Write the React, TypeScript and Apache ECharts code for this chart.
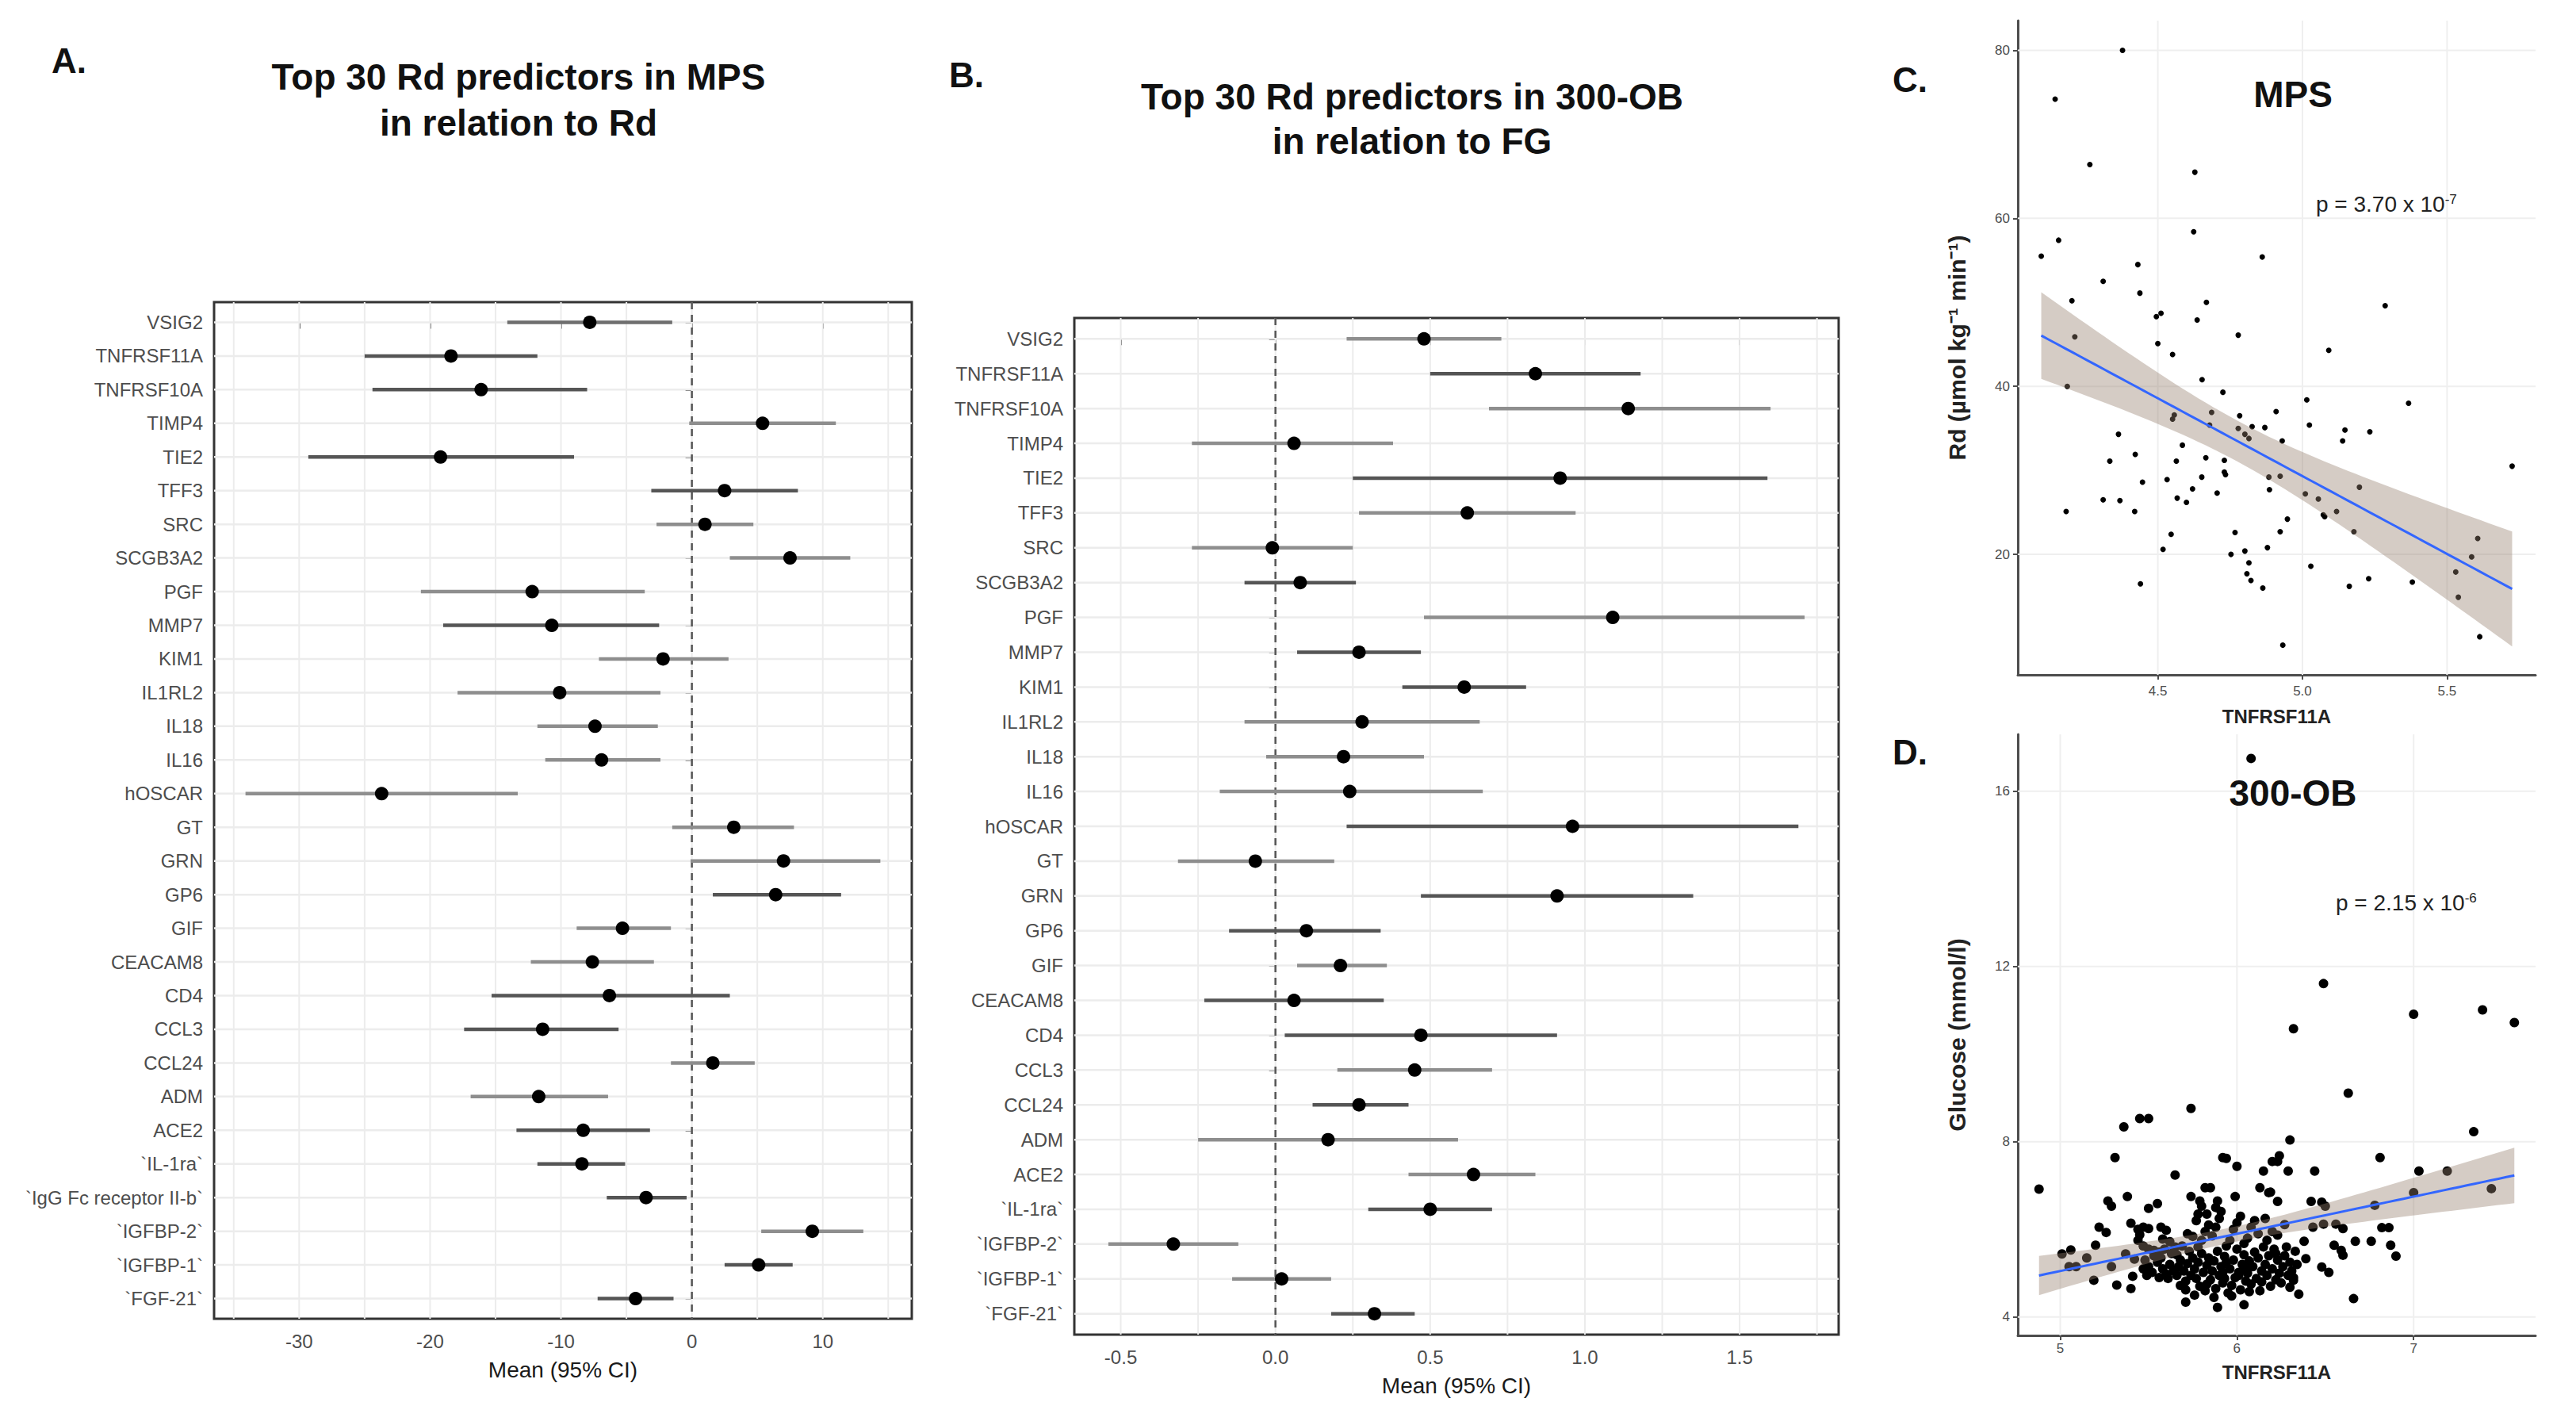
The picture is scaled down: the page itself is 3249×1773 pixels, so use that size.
import React, { useEffect, useRef } from "react";
import * as echarts from "echarts";

// ---------- Panel A: Top 30 Rd predictors in MPS (in relation to Rd) ----------
const catsA = ["VSIG2","TNFRSF11A","TNFRSF10A","TIMP4","TIE2","TFF3","SRC","SCGB3A2","PGF","MMP7","KIM1","IL1RL2","IL18","IL16","hOSCAR","GT","GRN","GP6","GIF","CEACAM8","CD4","CCL3","CCL24","ADM","ACE2","`IL-1ra`","`IgG Fc receptor II-b`","`IGFBP-2`","`IGFBP-1`","`FGF-21`"];
const meanA = [-7.8,-18.4,-16.1,5.4,-19.2,2.5,1.0,7.5,-12.2,-10.7,-2.2,-10.1,-7.4,-6.9,-23.7,3.2,7.0,6.4,-5.3,-7.6,-6.3,-11.4,1.6,-11.7,-8.3,-8.4,-3.5,9.2,5.1,-4.3];
const lowA = [-14.1,-25.0,-24.4,-0.2,-29.3,-3.1,-2.7,2.9,-20.7,-19.0,-7.1,-17.9,-11.8,-11.2,-34.1,-1.5,-0.1,1.6,-8.8,-12.3,-15.3,-17.4,-1.6,-16.9,-13.4,-11.8,-6.5,5.3,2.5,-7.2];
const highA = [-1.5,-11.8,-8.0,11.0,-9.0,8.1,4.7,12.1,-3.6,-2.5,2.8,-2.4,-2.6,-2.4,-13.3,7.8,14.4,11.4,-1.6,-2.9,2.9,-5.6,4.8,-6.4,-3.2,-5.1,-0.4,13.1,7.7,-1.4];
const shadeA = ["m","d","d","l","d","d","l","l","l","d","l","l","l","l","l","l","l","d","l","l","d","d","l","l","d","d","d","l","d","d"];
const xTicksA = [-30, -20, -10, 0, 10];
const xGridA = [-35, -30, -25, -20, -15, -10, -5, 0, 5, 10, 15];

// ---------- Panel B: Top 30 Rd predictors in 300-OB (in relation to FG) ----------
const catsB = ["VSIG2","TNFRSF11A","TNFRSF10A","TIMP4","TIE2","TFF3","SRC","SCGB3A2","PGF","MMP7","KIM1","IL1RL2","IL18","IL16","hOSCAR","GT","GRN","GP6","GIF","CEACAM8","CD4","CCL3","CCL24","ADM","ACE2","`IL-1ra`","`IGFBP-2`","`IGFBP-1`","`FGF-21`"];
const meanB = [0.48,0.84,1.14,0.06,0.92,0.62,-0.01,0.08,1.09,0.27,0.61,0.28,0.22,0.24,0.96,-0.065,0.91,0.10,0.21,0.06,0.47,0.45,0.27,0.17,0.64,0.50,-0.33,0.02,0.32];
const lowB = [0.23,0.50,0.69,-0.27,0.25,0.27,-0.27,-0.10,0.48,0.07,0.41,-0.10,-0.03,-0.18,0.23,-0.315,0.47,-0.15,0.07,-0.23,0.03,0.20,0.12,-0.25,0.43,0.30,-0.54,-0.14,0.18];
const highB = [0.73,1.18,1.60,0.38,1.59,0.97,0.25,0.26,1.71,0.47,0.81,0.66,0.48,0.67,1.69,0.19,1.35,0.34,0.36,0.35,0.91,0.70,0.43,0.59,0.84,0.70,-0.12,0.18,0.45];
const shadeB = ["l","d","l","l","d","l","l","d","l","d","d","l","l","l","d","l","d","d","l","d","d","l","d","l","l","d","l","l","d"];
const xTicksB = [-0.5, 0, 0.5, 1, 1.5];
const xGridB = [-0.5, -0.25, 0, 0.25, 0.5, 0.75, 1, 1.25, 1.5, 1.75];

// ---------- Panel C: MPS, TNFRSF11A vs Rd ----------
const mpsPoints = [
  [4.378,80.0],[4.145,74.2],[4.265,66.4],[4.628,65.5],[4.624,58.4],[4.157,57.4],[4.097,55.5],[4.431,54.5],[4.861,55.4],[4.311,52.5],
  [4.438,51.1],[4.203,50.2],[4.668,50.0],[4.495,48.3],[4.511,48.7],[4.636,47.9],[5.286,49.6],
  [4.213,45.9],[4.778,46.1],[4.500,45.1],[4.551,43.8],[5.091,44.3],[4.653,40.8],[4.187,40.0],[4.725,39.3],[5.015,38.4],[5.367,38.0],
  [4.557,36.6],[4.551,36.1],[4.686,36.9],[4.909,37.0],[4.783,36.5],[5.024,35.4],[4.679,35.4],[4.826,35.2],[4.870,35.1],[4.778,35.0],
  [4.801,34.3],[4.815,33.8],[5.147,34.8],[5.233,34.6],[4.364,34.3],[4.930,33.5],[5.139,33.5],[4.585,33.0],[4.422,31.9],[4.334,31.1],
  [4.564,31.1],[4.666,31.5],[4.730,31.2],[4.730,29.8],[4.734,29.5],[5.725,30.5],[4.652,29.2],[4.884,29.2],[4.923,29.3],[4.532,28.9],
  [4.447,28.6],[4.620,27.8],[4.886,27.7],[5.197,28.0],[4.705,27.3],[5.010,27.2],[5.055,26.6],[4.311,26.5],[4.369,26.4],[4.567,26.7],
  [4.599,26.2],[4.183,25.1],[4.420,25.1],[5.072,24.7],[5.077,24.5],[5.118,25.1],[4.948,24.2],[4.546,22.4],[4.767,22.6],[4.923,22.7],
  [5.178,22.7],[5.606,21.9],[4.518,20.6],[4.879,20.8],[4.753,20.0],[4.801,20.4],[4.815,19.0],[5.029,18.6],[5.585,19.7],[5.530,17.9],
  [4.808,17.7],[4.822,16.9],[4.440,16.5],[4.863,16.0],[5.162,16.2],[5.229,17.1],[5.380,16.7],[5.539,14.9],[5.613,10.2],[4.932,9.2]
];
const xTicksC = [4.5, 5.0, 5.5];
const yTicksC = [20, 40, 60, 80];

// ---------- Panel D: 300-OB, TNFRSF11A vs Glucose ----------
const obPoints = [
  [4.88,6.92],[5.01,5.44],[5.06,5.53],[5.05,5.15],[5.09,5.15],[5.15,5.35],[5.19,4.84],[5.2,5.64],[5.22,6.05],[5.26,5.93],
  [5.27,6.65],[5.29,6.53],[5.29,5.15],[5.31,7.64],[5.32,4.73],[5.36,8.34],[5.37,5.44],[5.38,6.75],[5.4,6.14],[5.4,4.65],
  [5.41,4.93],[5.42,5.32],[5.45,8.53],[5.5,8.53],[5.5,6.48],[5.55,6.59],[5.65,7.24],[5.74,8.76],[5.74,6.75],[5.79,6.65],
  [5.8,6.53],[5.82,6.95],[5.85,6.95],[5.89,6.65],[5.88,6.5],[5.91,6.41],[5.78,6.35],[5.83,6.35],[5.92,7.64],[5.94,7.62],
  [6.0,7.44],[5.99,6.75],[6.15,7.33],[6.2,7.55],[6.13,6.95],[6.18,6.84],
  [6.08,16.75],[6.49,11.61],[7.0,10.91],[7.39,11.01],[7.57,10.72],[6.32,10.58],[6.63,9.11],[6.3,8.04],[7.34,8.23],[6.24,7.68],
  [6.23,7.55],[6.81,7.64],[6.29,7.33],[6.44,7.33],[7.03,7.33],[7.19,7.33],[6.19,6.85],[6.23,6.64],[6.42,6.64],[6.48,6.62],
  [6.5,6.53],[7.0,6.84],[7.44,6.93],[6.78,6.55],[6.27,6.11],[6.43,6.05],[6.49,6.12],[6.56,6.12],[6.6,6.02],[6.82,6.04],
  [6.86,6.04],[6.23,5.87],[6.38,5.73],[6.67,5.73],[6.76,5.73],[6.87,5.64],[6.9,5.39],[6.55,5.64],[6.59,5.52],[6.6,5.41],
  [6.39,5.33],[6.48,5.14],[6.52,5.02],[6.32,4.9],[6.32,4.84],[6.3,4.68],[6.35,4.52],[6.66,4.42],[5.71,4.62],[5.71,4.34],
  [5.89,4.22],[6.04,4.28],
  [5.44,6.0],[5.47,6.05],[5.5,6.02],[5.45,5.88],[5.44,5.75],[5.47,5.62],[5.5,5.55],[5.53,5.52],[5.56,5.48],[5.57,6.05],[5.6,5.98],
  [5.48,5.3],[5.5,5.15],[5.52,5.02],[5.49,4.95],[5.55,5.25],[5.53,5.4],[5.47,5.1],
  [5.57,5.35],[5.58,5.1],[5.6,4.98],[5.62,5.2],[5.63,5.45],[5.59,5.55],[5.61,4.88],[5.64,5.05],[5.56,4.9],[5.65,5.6],[5.62,5.72],[5.58,5.78],
  [5.66,4.95],[5.67,5.15],[5.68,5.3],[5.7,5.05],[5.71,4.82],[5.72,5.22],[5.73,5.5],[5.69,5.62],[5.74,4.95],[5.75,5.35],[5.68,4.72],[5.72,5.9],[5.75,5.84],[5.66,5.42],
  [5.76,5.1],[5.77,4.88],[5.78,5.25],[5.79,4.7],[5.8,5.45],[5.81,5.02],[5.82,4.6],[5.83,5.18],[5.84,5.35],[5.85,4.85],[5.78,5.6],[5.8,5.75],[5.82,5.95],[5.84,6.1],[5.77,6.2],[5.76,4.5],[5.83,4.75],
  [5.86,5.05],[5.87,5.28],[5.88,4.65],[5.89,5.5],[5.9,4.95],[5.91,5.15],[5.92,4.78],[5.93,5.38],[5.94,5.62],[5.95,4.55],[5.86,5.85],[5.88,6.05],[5.9,6.25],[5.92,5.02],[5.87,4.45],[5.93,4.88],[5.94,5.25],
  [5.96,5.1],[5.97,4.72],[5.98,5.3],[5.99,4.9],[6.0,5.55],[6.01,5.02],[6.02,4.62],[6.03,5.2],[6.04,5.42],[6.05,4.82],[5.96,5.75],[5.98,6.0],[6.0,6.15],[6.02,6.3],[5.97,4.48],[6.04,5.68],[6.01,4.95],[6.05,5.12],
  [6.06,5.0],[6.07,5.28],[6.08,4.75],[6.09,5.15],[6.1,5.48],[6.11,4.88],[6.12,5.35],[6.13,4.6],[6.14,5.05],[6.15,5.6],[6.06,5.8],[6.08,6.05],[6.1,6.2],[6.12,5.9],[6.07,4.58],[6.14,4.8],
  [6.16,5.2],[6.17,4.95],[6.18,5.4],[6.19,4.7],[6.2,5.1],[6.21,5.55],[6.22,4.85],[6.23,5.3],[6.24,5.0],[6.25,4.78],[6.17,5.75],[6.2,5.95],[6.16,6.25],[6.22,5.45],
  [6.26,5.15],[6.27,5.4],[6.28,5.6],[6.29,4.95],[6.3,5.25],[6.31,5.05],[6.33,5.5],[6.34,5.2]
];
const xTicksD = [5, 6, 7];
const yTicksD = [4, 8, 12, 16];

const FONT = "Liberation Sans";
const shadePalette: Record<string, string> = { d: "#555555", m: "#6e6e6e", l: "#8e8e8e" };

function linearFit(pts: number[][], steps: number) {
  const n = pts.length;
  let sx = 0, sy = 0;
  pts.forEach((p) => { sx += p[0]; sy += p[1]; });
  const mx = sx / n, my = sy / n;
  let sxx = 0, sxy = 0;
  pts.forEach((p) => { sxx += (p[0] - mx) ** 2; sxy += (p[0] - mx) * (p[1] - my); });
  const b = sxy / sxx, a = my - b * mx;
  let sse = 0;
  pts.forEach((p) => { const r = p[1] - (a + b * p[0]); sse += r * r; });
  const s = Math.sqrt(sse / (n - 2));
  const t = 1.96 + 2.4 / (n - 2);
  const xs = pts.map((p) => p[0]);
  const x0 = Math.min(...xs), x1 = Math.max(...xs);
  const line: number[][] = [], up: number[][] = [], lo: number[][] = [];
  for (let k = 0; k <= steps; k++) {
    const x = x0 + ((x1 - x0) * k) / steps;
    const yh = a + b * x;
    const se = s * Math.sqrt(1 / n + (x - mx) ** 2 / sxx);
    line.push([x, yh]); up.push([x, yh + t * se]); lo.push([x, yh - t * se]);
  }
  return { line, up, lo };
}

function gridLines(gi: number, values: number[], dir: "v" | "h", ext: number[], color: string, width: number, z: number, dash?: number[]) {
  return {
    type: "custom", xAxisIndex: gi, yAxisIndex: gi, silent: true, z, clip: false,
    data: values.map((v) => (dir === "v" ? [v, ext[0]] : [ext[0], v])),
    encode: { x: 0, y: 1 },
    renderItem: (_p: any, api: any) => {
      const v = api.value(dir === "v" ? 0 : 1);
      const p1 = dir === "v" ? api.coord([v, ext[0]]) : api.coord([ext[0], v]);
      const p2 = dir === "v" ? api.coord([v, ext[1]]) : api.coord([ext[1], v]);
      return { type: "line", shape: { x1: p1[0], y1: p1[1], x2: p2[0], y2: p2[1] }, style: { stroke: color, lineWidth: width, lineDash: dash || null } };
    },
  };
}

function forestSeries(gi: number, low: number[], mean: number[], high: number[], shade: string[]) {
  return [
    {
      type: "custom", xAxisIndex: gi, yAxisIndex: gi, silent: true, z: 4,
      data: low.map((l, i) => [l, high[i], i]),
      encode: { x: [0, 1], y: 2 },
      renderItem: (p: any, api: any) => {
        const a = api.coord([api.value(0), api.value(2)]);
        const b = api.coord([api.value(1), api.value(2)]);
        return { type: "line", shape: { x1: a[0], y1: a[1], x2: b[0], y2: b[1] }, style: { stroke: shadePalette[shade[p.dataIndex]], lineWidth: 4.5 } };
      },
    },
    {
      type: "scatter", xAxisIndex: gi, yAxisIndex: gi, silent: true, z: 5,
      symbol: "circle", symbolSize: 17, itemStyle: { color: "#000", opacity: 1 },
      data: mean.map((m, i) => [m, i]),
    },
  ];
}

function scatterSeries(gi: number, pts: number[][], size: number) {
  const fit = linearFit(pts, 60);
  return [
    { type: "scatter", xAxisIndex: gi, yAxisIndex: gi, silent: true, z: 3, symbolSize: size, itemStyle: { color: "#000", opacity: 1 }, data: pts },
    {
      type: "custom", xAxisIndex: gi, yAxisIndex: gi, silent: true, z: 4,
      data: [fit.line[0]], encode: { x: 0, y: 1 },
      renderItem: (_p: any, api: any) => {
        const pts2 = fit.up.map((q) => api.coord(q)).concat(fit.lo.slice().reverse().map((q) => api.coord(q)));
        return { type: "polygon", shape: { points: pts2 }, style: { fill: "rgba(150,128,110,0.4)" } };
      },
    },
    {
      type: "line", xAxisIndex: gi, yAxisIndex: gi, silent: true, z: 5, symbol: "none",
      lineStyle: { color: "#3366FF", width: 3 }, data: fit.line,
    },
  ];
}

const forestY = (cats: string[]) => ({
  type: "value", inverse: true, min: -0.6, max: cats.length - 0.4,
  splitLine: { show: false }, axisLine: { show: false },
  axisTick: { show: true, customValues: cats.map((_, i) => i), length: 8, lineStyle: { color: "#333", width: 2 } },
  axisLabel: { customValues: cats.map((_, i) => i), formatter: (v: number) => cats[Math.round(v)], fontSize: 24, color: "#4d4d4d", margin: 14, fontFamily: FONT },
});

const forestX = (min: number, max: number, ticks: number[], fmt: (v: number) => string) => ({
  type: "value", min, max, splitLine: { show: false }, axisLine: { show: false },
  axisTick: { show: true, customValues: ticks, length: 8, lineStyle: { color: "#333", width: 2 } },
  axisLabel: { customValues: ticks, formatter: fmt, fontSize: 24, color: "#4d4d4d", margin: 16, fontFamily: FONT },
  name: "Mean (95% CI)", nameLocation: "middle", nameGap: 50,
  nameTextStyle: { fontSize: 28, color: "#1a1a1a", fontFamily: FONT },
});

const scatterAxis = (min: number, max: number, ticks: number[], fmt: (v: number) => string, name: string, gap: number, margin: number, nameSize: number) => ({
  type: "value", min, max, splitLine: { show: false },
  axisLine: { show: true, lineStyle: { color: "#4d4d4d", width: 3 } },
  axisTick: { show: true, customValues: ticks, length: 6, lineStyle: { color: "#4d4d4d", width: 2 } },
  axisLabel: { customValues: ticks, formatter: fmt, fontSize: 17, color: "#4d4d4d", margin, fontFamily: FONT },
  name, nameLocation: "middle", nameGap: gap,
  nameTextStyle: { fontSize: nameSize, fontWeight: "bold", color: "#222", fontFamily: FONT },
});

const label = (text: string, x: number, y: number) => ({
  type: "text", x, y, z: 100,
  style: { text, fontSize: 44, fontWeight: "bold", fontFamily: FONT, fill: "#111", verticalAlign: "middle" },
});

export default function App() {
  const ref = useRef<HTMLDivElement>(null);
  useEffect(() => {
    if (!ref.current) return;
    const chart = echarts.init(ref.current, undefined, { renderer: "svg" });
    const xA: [number, number] = [-36.5, 16.8];
    const xB: [number, number] = [-0.65, 1.82];
    const yA = [-0.6, catsA.length - 0.4];
    const yB = [-0.6, catsB.length - 0.4];
    const xC = [4.016, 5.806], yC = [5.66, 83.54];
    const xD = [4.76, 7.69], yD = [3.58, 17.3];

    const option: any = {
      animation: false,
      backgroundColor: "#ffffff",
      textStyle: { fontFamily: FONT },
      grid: [
        { left: 270, top: 381, width: 880, height: 1282, show: true, borderColor: "#333", borderWidth: 3, backgroundColor: "transparent", containLabel: false, outerBoundsMode: "none" },
        { left: 1355, top: 401, width: 964, height: 1282, show: true, borderColor: "#333", borderWidth: 3, backgroundColor: "transparent", containLabel: false, outerBoundsMode: "none" },
        { left: 2545, top: 26, width: 653, height: 825, containLabel: false, outerBoundsMode: "none" },
        { left: 2545, top: 926, width: 653, height: 758, containLabel: false, outerBoundsMode: "none" },
      ],
      xAxis: [
        { ...forestX(xA[0], xA[1], xTicksA, (v) => String(v)), gridIndex: 0 },
        { ...forestX(xB[0], xB[1], xTicksB, (v) => v.toFixed(1)), gridIndex: 1 },
        { ...scatterAxis(xC[0], xC[1], xTicksC, (v) => v.toFixed(1), "TNFRSF11A", 40, 12, 24), gridIndex: 2 },
        { ...scatterAxis(xD[0], xD[1], xTicksD, (v) => String(v), "TNFRSF11A", 34, 8, 24), gridIndex: 3 },
      ],
      yAxis: [
        { ...forestY(catsA), gridIndex: 0 },
        { ...forestY(catsB), gridIndex: 1 },
        { ...scatterAxis(yC[0], yC[1], yTicksC, (v) => String(v), "Rd (µmol kg⁻¹ min⁻¹)", 62, 10, 30), gridIndex: 2 },
        { ...scatterAxis(yD[0], yD[1], yTicksD, (v) => String(v), "Glucose (mmol/l)", 62, 10, 30), gridIndex: 3 },
      ],
      series: [
        gridLines(0, xGridA, "v", yA, "#ececec", 2, 1),
        gridLines(0, catsA.map((_, i) => i), "h", xA, "#ececec", 2.5, 1),
        gridLines(0, [0], "v", yA, "#555555", 2.5, 2, [9, 7]),
        ...forestSeries(0, lowA, meanA, highA, shadeA),
        gridLines(1, xGridB, "v", yB, "#ececec", 2, 1),
        gridLines(1, catsB.map((_, i) => i), "h", xB, "#ececec", 2.5, 1),
        gridLines(1, [0], "v", yB, "#555555", 2.5, 2, [9, 7]),
        ...forestSeries(1, lowB, meanB, highB, shadeB),
        gridLines(2, xTicksC, "v", yC, "#efefef", 2, 1),
        gridLines(2, yTicksC, "h", xC, "#efefef", 2, 1),
        ...scatterSeries(2, mpsPoints, 7),
        gridLines(3, xTicksD, "v", yD, "#efefef", 2, 1),
        gridLines(3, yTicksD, "h", xD, "#efefef", 2, 1),
        ...scatterSeries(3, obPoints, 12),
      ],
      graphic: [
        label("A.", 65, 76),
        label("B.", 1197, 94),
        label("C.", 2387, 100),
        label("D.", 2387, 948),
        { type: "text", x: 654, y: 126, z: 100, style: { text: "Top 30 Rd predictors in MPS\nin relation to Rd", fontSize: 46, fontWeight: "bold", fontFamily: FONT, fill: "#111", align: "center", verticalAlign: "middle", lineHeight: 58 } },
        { type: "text", x: 1781, y: 150, z: 100, style: { text: "Top 30 Rd predictors in 300-OB\nin relation to FG", fontSize: 46, fontWeight: "bold", fontFamily: FONT, fill: "#111", align: "center", verticalAlign: "middle", lineHeight: 56 } },
        { type: "text", x: 2892, y: 119, z: 100, style: { text: "MPS", fontSize: 46, fontWeight: "bold", fontFamily: FONT, fill: "#111", align: "center", verticalAlign: "middle" } },
        { type: "text", x: 2892, y: 1000, z: 100, style: { text: "300-OB", fontSize: 46, fontWeight: "bold", fontFamily: FONT, fill: "#111", align: "center", verticalAlign: "middle" } },
        { type: "text", x: 2921, y: 257, z: 100, style: { text: "{a|p = 3.70 x 10}{s|-7}", verticalAlign: "middle", rich: { a: { fontSize: 28, fontFamily: FONT, fill: "#222" }, s: { fontSize: 17, fontFamily: FONT, fill: "#222", verticalAlign: "top" } } } },
        { type: "text", x: 2946, y: 1138, z: 100, style: { text: "{a|p = 2.15 x 10}{s|-6}", verticalAlign: "middle", rich: { a: { fontSize: 28, fontFamily: FONT, fill: "#222" }, s: { fontSize: 17, fontFamily: FONT, fill: "#222", verticalAlign: "top" } } } },
      ],
    };
    chart.setOption(option);
    return () => chart.dispose();
  }, []);
  return <div ref={ref} style={{ position: "fixed", left: 0, top: 0, width: 3249, height: 1773, background: "#fff" }} />;
}
